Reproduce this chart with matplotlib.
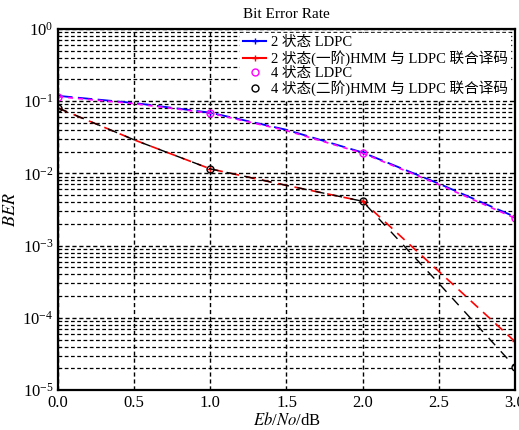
import numpy as np
import matplotlib.pyplot as plt
from matplotlib.lines import Line2D
from matplotlib.ticker import LogLocator, NullFormatter

plt.rcParams['font.family'] = ['Liberation Serif', 'Noto Sans CJK SC']
plt.rcParams['mathtext.fontset'] = 'stix'

# Eb/No (dB)
ebno = [0.0, 0.5, 1.0, 1.5, 2.0, 2.5, 3.0]

# BER
ber_2state_ldpc = [0.118, 0.094, 0.069, 0.040, 0.0194, 0.0072, 0.0025]
ber_2state_hmm = [0.080, 0.029, 0.0115, 0.0068, 0.0041, 0.00044, 0.000047]
ber_4state_ldpc = [0.115, 0.092, 0.068, 0.039, 0.0190, 0.0070, 0.0024]
ber_4state_hmm = [0.080, 0.029, 0.0115, 0.0068, 0.0041, 0.00030, 0.000021]

labels = ['2 状态 LDPC',
          '2 状态(一阶)HMM 与 LDPC 联合译码',
          '4 状态 LDPC',
          '4 状态(二阶)HMM 与 LDPC 联合译码']

fig = plt.figure(figsize=(5.19, 4.30), dpi=100)
ax = fig.add_axes([0.112, 0.093, 0.880, 0.840])

ax.semilogy(ebno, ber_2state_ldpc, color='blue', linestyle=(0, (8, 3)), lw=1.3,
            marker='+', markevery=2, ms=5)
ax.semilogy(ebno, ber_2state_hmm, color='red', linestyle=(0, (6, 4)), lw=1.2,
            marker='+', markevery=2, ms=5)
ax.semilogy(ebno, ber_4state_ldpc, color='magenta', linestyle=(0, (3, 3)), lw=1.2,
            marker='o', markevery=2, ms=5, mfc='none')
ax.semilogy(ebno, ber_4state_hmm, color='black', linestyle=(0, (7, 6)), lw=1.0,
            marker='o', markevery=2, ms=5, mfc='none')

ax.set_xlim(0, 3)
ax.set_ylim(1e-5, 1)
ax.set_xticks([0, 0.5, 1.0, 1.5, 2.0, 2.5, 3.0])
ax.set_xticklabels(['0.0', '0.5', '1.0', '1.5', '2.0', '2.5', '3.0'])
ax.yaxis.set_major_locator(LogLocator(base=10, numticks=10))
ax.yaxis.set_minor_locator(LogLocator(base=10, subs=np.arange(2, 10), numticks=10))
ax.yaxis.set_minor_formatter(NullFormatter())

ax.grid(True, which='major', axis='both', color='black', linestyle=(0, (3, 2)), lw=1.0)
ax.grid(True, which='minor', axis='y', color='black', linestyle=(0, (3, 2)), lw=0.9)
ax.set_axisbelow(True)

ax.tick_params(axis='both', which='both', direction='in', labelsize=12, length=0)
for s in ax.spines.values():
    s.set_linewidth(1.6)

ax.set_title('Bit Error Rate', fontsize=11, pad=8)
ax.set_xlabel(r'$\it{Eb}$/$\it{No}$/dB', fontsize=12, labelpad=1)
ax.set_ylabel('$BER$', fontsize=13, labelpad=2)

# legend: the first two show a line, the last two only the circle
handles = [
    Line2D([], [], color='blue', lw=1.5, marker='+', ms=5),
    Line2D([], [], color='red', lw=1.5, marker='+', ms=5),
    Line2D([], [], color='magenta', lw=0, marker='o', ms=5, mfc='none'),
    Line2D([], [], color='black', lw=0, marker='o', ms=5, mfc='none'),
]
ax.legend(handles, labels, loc='upper right', fontsize=10.5, frameon=True,
          fancybox=False, edgecolor='white', framealpha=1, borderpad=0.2,
          labelspacing=0.05, handlelength=1.6, handletextpad=0.3,
          borderaxespad=0.3)

fig.savefig('out.png', dpi=100)
